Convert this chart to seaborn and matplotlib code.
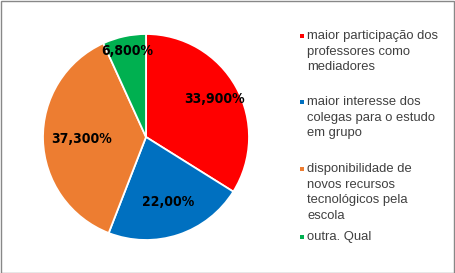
import matplotlib
matplotlib.use("Agg")
import matplotlib.pyplot as plt
import seaborn as sns
import numpy as np
from matplotlib.patches import Rectangle

categories = [
    "maior participação dos\nprofessores como\nmediadores",
    "maior interesse dos\ncolegas para o estudo\nem grupo",
    "disponibilidade de\nnovos recursos\ntecnológicos pela\nescola",
    "outra. Qual",
]
values = [33.9, 22.0, 37.3, 6.8]
value_labels = ["33,900%", "22,00%", "37,300%", "6,800%"]
colors = ["#FF0000", "#0070C0", "#ED7D31", "#00B050"]

# style: label radius (fraction of pie radius) per slice, legend entry y (px from top)
label_radius = [0.76, 0.67, 0.63, 0.85]
legend_y_px = [36, 102, 169, 237]

sns.set_theme(style="white")
plt.rcParams["font.family"] = ["Liberation Sans", "DejaVu Sans"]

W, H = 455, 273
fig = plt.figure(figsize=(W / 100, H / 100), dpi=100)
fig.patch.set_facecolor("white")

cx, cy, r = 146, 137, 103
ax = fig.add_axes([(cx - r) / W, (H - cy - r) / H, 2 * r / W, 2 * r / H])
palette = sns.color_palette(colors)
wedges, _ = ax.pie(values, colors=palette, startangle=90, counterclock=False,
                   wedgeprops=dict(edgecolor="white", linewidth=1.3))
ax.set_xlim(-1, 1)
ax.set_ylim(-1, 1)
ax.set_aspect("equal")

for w, lab, rr in zip(wedges, value_labels, label_radius):
    ang = np.deg2rad((w.theta1 + w.theta2) / 2)
    ax.text(rr * np.cos(ang), rr * np.sin(ang), lab, ha="center", va="center",
            fontsize=10, fontweight="bold", color="black",
            family="DejaVu Sans", fontstretch="condensed")

# legend
line_h = 15.7
for cat, col, y0 in zip(categories, palette, legend_y_px):
    fig.patches.append(Rectangle((300 / W, 1 - (y0 + 2) / H), 4 / W, 4 / H,
                                 transform=fig.transFigure, facecolor=col,
                                 edgecolor="none"))
    for i, line in enumerate(cat.split("\n")):
        fig.text(307 / W, 1 - (y0 + i * line_h) / H, line, ha="left", va="center",
                 fontsize=9.4, color="#404040")

fig.patches.append(Rectangle((0.5 / W, 0.5 / H), 1 - 1.5 / W, 1 - 1.5 / H,
                             transform=fig.transFigure, facecolor="none",
                             edgecolor="#888888", linewidth=1))

fig.savefig("out.png", dpi=100)
